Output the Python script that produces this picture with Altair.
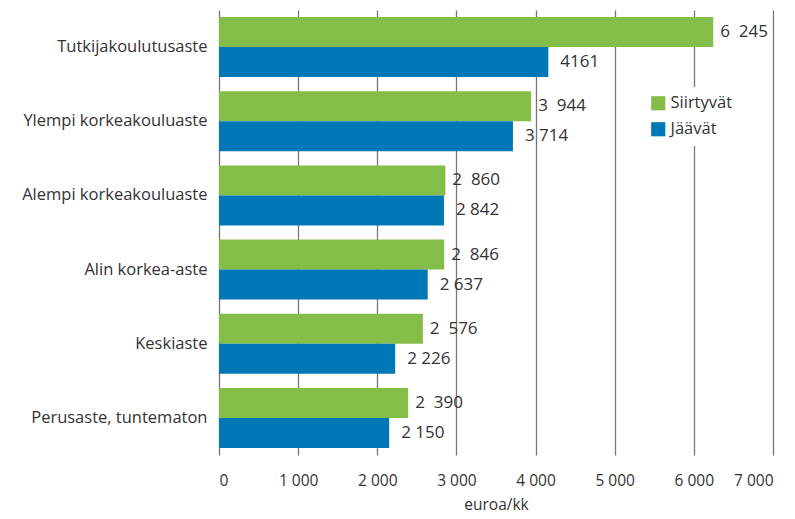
import altair as alt
import pandas as pd

categories = ["Tutkijakoulutusaste", "Ylempi korkeakouluaste", "Alempi korkeakouluaste",
              "Alin korkea-aste", "Keskiaste", "Perusaste, tuntematon"]
series = ["Siirtyvät", "Jäävät"]
siirtyvat = [6245, 3944, 2860, 2846, 2576, 2390]
jaavat = [4161, 3714, 2842, 2637, 2226, 2150]
siirtyvat_labels = ["6\u00a0\u00a0245", "3\u00a0\u00a0944", "2\u00a0\u00a0860", "2\u00a0\u00a0846", "2\u00a0\u00a0576", "2\u00a0\u00a0390"]
jaavat_labels = ["4161", "3 714", "2 842", "2 637", "2 226", "2 150"]
x_ticks = [0, 1000, 2000, 3000, 4000, 5000, 6000, 7000]

rows = []
for i, c in enumerate(categories):
    rows.append({"cat": c, "series": series[0], "value": siirtyvat[i], "label": siirtyvat_labels[i]})
    rows.append({"cat": c, "series": series[1], "value": jaavat[i], "label": jaavat_labels[i]})
df = pd.DataFrame(rows)

FONT = "Open Sans"
green = "#84bd48"
blue = "#0077b6"
TXT = "#333333"

y_enc = alt.Y("cat:N", sort=categories, title=None,
              scale=alt.Scale(paddingInner=0.19, paddingOuter=0.095),
              axis=alt.Axis(labelFontSize=16.5, labelFont=FONT, labelColor=TXT,
                            ticks=False, domain=False, labelPadding=12, labelLimit=300))
x_enc = alt.X("value:Q", title="euroa/kk",
              scale=alt.Scale(domain=[0, 7000], nice=False),
              axis=alt.Axis(values=x_ticks, labelExpr="replace(format(datum.value, ',d'), ',', ' ')",
                            labelFontSize=15.5, labelFont=FONT, labelColor=TXT,
                            titleFontSize=15.5, titleFont=FONT, titleColor=TXT, titleFontWeight="normal",
                            grid=True, gridColor="#777777", gridWidth=1.3,
                            domain=False, ticks=False, labelPadding=18, titlePadding=9))

base = alt.Chart(df)

bars = base.mark_bar(size=30).encode(
    y=y_enc,
    x=x_enc,
    yOffset=alt.YOffset("series:N", sort=series),
    color=alt.Color("series:N", sort=series,
                    scale=alt.Scale(domain=series, range=[green, blue]),
                    legend=alt.Legend(title=None, orient="none", legendX=423, legendY=77,
                                      symbolType="square", symbolSize=200, symbolStrokeWidth=0,
                                      labelFontSize=16.5, labelFont=FONT, labelColor=TXT,
                                      fillColor="white", padding=8, rowPadding=9,
                                      symbolOffset=0, labelOffset=4))
)

text_g = base.transform_filter(alt.datum.series == series[0]).mark_text(
    align="left", baseline="middle", dx=7, fontSize=17, font=FONT, color=TXT
).encode(
    y=alt.Y("cat:N", sort=categories),
    x="value:Q",
    yOffset=alt.YOffset("series:N", sort=series),
    text="label:N",
)
text_b = base.transform_filter(alt.datum.series == series[1]).mark_text(
    align="left", baseline="middle", dx=12, fontSize=17, font=FONT, color=TXT
).encode(
    y=alt.Y("cat:N", sort=categories),
    x="value:Q",
    yOffset=alt.YOffset("series:N", sort=series),
    text="label:N",
)

chart = alt.layer(bars, text_g, text_b).properties(
    width=554, height=445,
    autosize=alt.AutoSizeParams(type="none"),
    padding={"left": 211, "top": 2, "right": 14, "bottom": 61},
).configure_view(stroke=None)

chart.save("out.html", embed_options={"renderer": "svg", "actions": False})
